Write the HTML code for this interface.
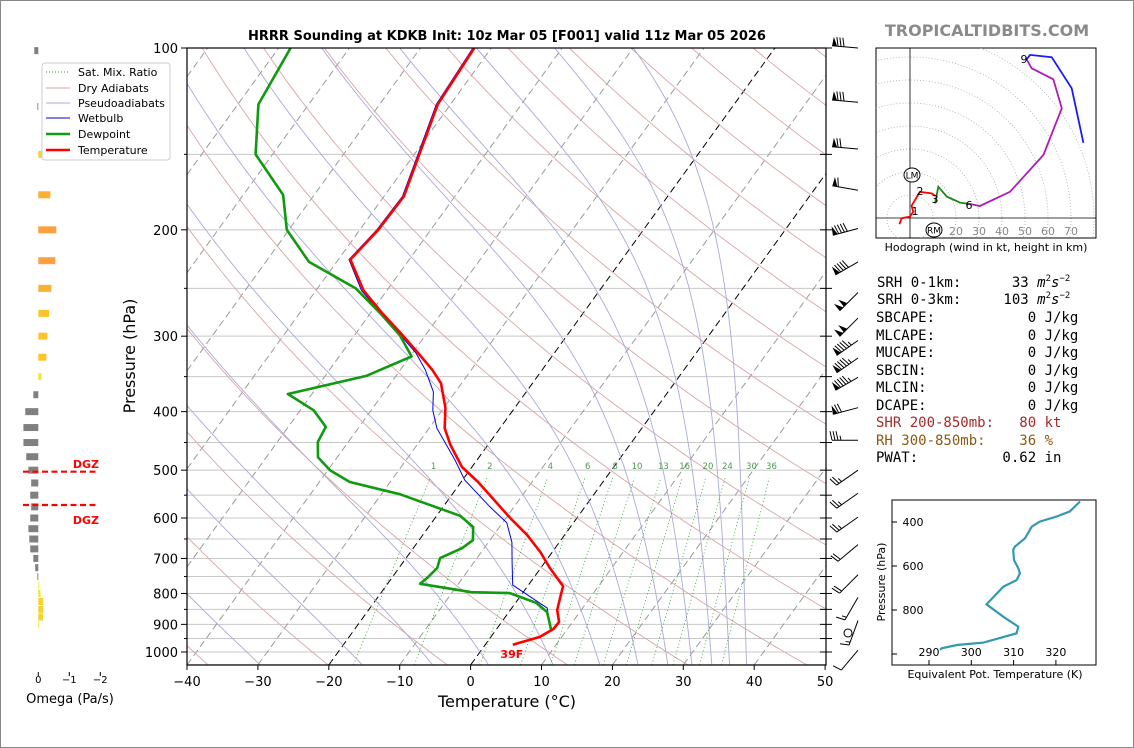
<!DOCTYPE html>
<html><head><meta charset="utf-8"><title>HRRR Sounding KDKB</title>
<style>
html,body{margin:0;padding:0;background:#fff;}
svg{display:block;font-family:"DejaVu Sans","Liberation Sans",sans-serif;}
.mono{font-family:"DejaVu Sans Mono","Liberation Mono",monospace;}
</style></head>
<body>
<svg id="chart" xmlns="http://www.w3.org/2000/svg" width="1134" height="748" viewBox="0 0 1134 748">
<rect x="0.5" y="0.5" width="1133" height="747" fill="#fff" stroke="#888"/>
<defs>
<clipPath id="mainClip"><rect x="187" y="48" width="639" height="617"/></clipPath>
<clipPath id="hodoClip"><rect x="876" y="48" width="220" height="190"/></clipPath>
</defs>
<g id="bg" clip-path="url(#mainClip)"></g>
<g id="profiles" clip-path="url(#mainClip)"></g>
<g id="axes"></g>
<g id="barbs"></g>
<g id="omega"></g>
<g id="hodo"></g>
<g id="thetae"></g>

<text x="507" y="40" text-anchor="middle" font-size="13" font-weight="bold">HRRR Sounding at KDKB Init: 10z Mar 05 [F001] valid 11z Mar 05 2026</text>
<text x="987" y="36" text-anchor="middle" font-size="16" font-weight="bold" fill="#8a8a8a">TROPICALTIDBITS.COM</text>
<text x="507" y="707" text-anchor="middle" font-size="16">Temperature (°C)</text>
<text x="135" y="356" text-anchor="middle" font-size="16" transform="rotate(-90 135 356)">Pressure (hPa)</text>

<g>
<rect x="42" y="63" width="128" height="97" rx="3" fill="#fff" stroke="#ccc"/>
<line x1="46" y1="72" x2="70" y2="72" stroke="#2a9d2a" stroke-dasharray="1,2"/>
<text x="78" y="76" font-size="11">Sat. Mix. Ratio</text>
<line x1="46" y1="88" x2="70" y2="88" stroke="#d9a5a5"/>
<text x="78" y="92" font-size="11">Dry Adiabats</text>
<line x1="46" y1="103" x2="70" y2="103" stroke="#a9a9d9"/>
<text x="78" y="107" font-size="11">Pseudoadiabats</text>
<line x1="46" y1="118" x2="70" y2="118" stroke="#0000cc"/>
<text x="78" y="122" font-size="11">Wetbulb</text>
<line x1="46" y1="134" x2="70" y2="134" stroke="#109a10" stroke-width="2.5"/>
<text x="78" y="138" font-size="11">Dewpoint</text>
<line x1="46" y1="150" x2="70" y2="150" stroke="#f00" stroke-width="2.5"/>
<text x="78" y="154" font-size="11">Temperature</text>
</g>

<g class="mono" font-size="14">
<text x="877" y="287" xml:space="preserve">SRH 0-1km:      33 <tspan font-style="italic">m</tspan><tspan font-size="9" dy="-6">2</tspan><tspan font-style="italic" dy="6">s</tspan><tspan font-size="9" dy="-6">−2</tspan></text>
<text x="877" y="304" xml:space="preserve">SRH 0-3km:     103 <tspan font-style="italic">m</tspan><tspan font-size="9" dy="-6">2</tspan><tspan font-style="italic" dy="6">s</tspan><tspan font-size="9" dy="-6">−2</tspan></text>
<text x="876" y="322" xml:space="preserve">SBCAPE:           0 J/kg</text>
<text x="876" y="340" xml:space="preserve">MLCAPE:           0 J/kg</text>
<text x="876" y="357" xml:space="preserve">MUCAPE:           0 J/kg</text>
<text x="876" y="375" xml:space="preserve">SBCIN:            0 J/kg</text>
<text x="876" y="392" xml:space="preserve">MLCIN:            0 J/kg</text>
<text x="876" y="410" xml:space="preserve">DCAPE:            0 J/kg</text>
<text x="876" y="427" fill="#a52a2a" xml:space="preserve">SHR 200-850mb:   80 kt</text>
<text x="876" y="445" fill="#8b5a12" xml:space="preserve">RH 300-850mb:    36 %</text>
<text x="876" y="462" xml:space="preserve">PWAT:          0.62 in</text>
</g>
</svg>

<script>
// ---------- Data ----------
const tempPres = [973,944,916,892,852,805,778,726,683,640,600,523,494,454,426,394,359,341,320,299,275,252,224,200,176,124,100];
const tempVals = [3.9,6.9,8.0,8.1,6.6,5.6,5.0,1.3,-1.7,-5.3,-9.4,-17.6,-21.4,-25.3,-27.8,-29.8,-32.9,-35.5,-39.2,-43.2,-48.3,-53.3,-58.3,-57.4,-57.2,-61.8,-62.4];
const dewPres = [925,859,829,799,796,771,754,726,699,673,653,621,595,548,523,500,476,449,424,398,374,349,324,299,274,250,226,200,175,150,124,100];
const dewVals = [8.0,5.4,2.9,-1.8,-7.3,-15.4,-15.0,-14.6,-15.2,-13.1,-12.4,-13.7,-16.7,-27.4,-35.7,-39.7,-42.7,-44.3,-44.7,-48.1,-53.4,-44.2,-39.8,-43.6,-48.8,-54.6,-63.9,-70.3,-74.4,-82.4,-87.1,-88.3];
const wbPres = [921,846,775,711,658,611,575,519,481,426,398,371,341,320,299,275,252,224,200,176,124,100];
const wbVals = [7.8,5.0,-2.2,-4.6,-6.7,-9.4,-13.4,-19.7,-23.1,-28.9,-31.3,-33.1,-36.5,-39.5,-43.5,-48.5,-53.6,-58.5,-57.6,-57.4,-62.0,-62.6];
const mixRatios = [1,2,4,6,8,10,13,16,20,24,30,36];
const dryThetas = [182.8,199.5,216.1,232.8,249.5,266.1,282.8,299.5,316.1,332.8,349.5,366.1,382.8,399.5,416.1,432.8,449.5,466.1,482.8,499.5,516.1,532.8,549.5,566.1,582.8];
const moistStarts = [-29.7,-15.3,-5.4,2.5,11.6,18.2,23.6,27.8,31.2,34.0,36.5,38.9];
const isotherms = [-120,-110,-100,-90,-80,-70,-60,-50,-40,-30,-10,10,20,30,40,50];
const tempTicks = [-40,-30,-20,-10,0,10,20,30,40,50];
const presTicks = [100,200,300,400,500,600,700,800,900,1000];
const gridPres = [100,150,200,250,300,350,400,450,500,550,600,650,700,750,800,850,900,950,1000,1050];

const barbPres = [100,123,147,172,199,226,254,280,305,326,351,394,446,500,546,598,664,745,812,887,930,993];
const barbDir  = [275,275,275,280,255,240,225,225,235,235,240,255,270,235,235,235,230,225,210,200,0,220];
const barbSpd  = [80,80,70,60,90,90,100,100,95,95,95,70,35,25,25,25,20,20,15,15,0,10];

const omegaPres = [101,125,150,175,200,225,250,275,300,325,350,375,400,425,450,475,500,525,550,575,600,625,650,675,700,725,750,775,800,825,850,875,900];
const omegaVals = [0.13,0.03,-0.16,-0.39,-0.58,-0.55,-0.42,-0.35,-0.29,-0.26,-0.10,0.16,0.42,0.48,0.48,0.39,0.32,0.23,0.26,0.23,0.26,0.32,0.29,0.26,0.16,0.10,0.03,-0.03,-0.07,-0.16,-0.16,-0.15,-0.03];

const hodoRedU = [-4.6,-3.6,0,1.4,0.7,4.3,9.4,10.9];
const hodoRedV = [-2.7,-0.1,0.6,2.7,5.3,11.4,10.7,9.6];
const hodoGreenU = [10.9,12.3,16,21.7,26.1];
const hodoGreenV = [6.4,13.6,9.3,6.7,6.1];
const hodoMagU = [26.1,30.4,43.5,58,66,62.3,52.9,50.7];
const hodoMagV = [6.1,5.2,11.4,27.4,47.7,60.3,65.1,69];
const hodoBlueU = [50.7,52.2,61.6,70.3,75.4];
const hodoBlueV = [69,70.9,69.9,56.4,32.7];
const hodoRings = [10,20,30,40,50,60,70,80];
const hodoLabels = [20,30,40,50,60,70];

const thetaPres = [307,352,375,398,421,474,512,527,573,610,633,664,694,774,831,876,906,921,948,959,974,981];
const thetaVals = [325.7,323.3,320.2,316.2,314.3,312.7,310.3,309.9,310.1,311.1,311.5,310.7,307.6,303.6,307.6,311.1,310.7,308.0,302.9,296.6,293.0,292.6];
const thetaXTicks = [290,300,310,320];
const thetaYTicks = [400,600,800,1000];

// ---------- Scales ----------
const NS = 'http://www.w3.org/2000/svg';
function yP(p){ return 48 + Math.log10(p/100)*604; }
function xT(T,p){ return 187 + (T+40)*7.09 + (665 - yP(p))*0.723; }
function mk(tag, attrs, parent){ const e=document.createElementNS(NS,tag); for(const k in attrs) e.setAttribute(k,attrs[k]); parent.appendChild(e); return e; }
function pathFrom(ps, ts){ return ps.map((p,i)=>(i?'L':'M')+xT(ts[i],p).toFixed(1)+','+yP(p).toFixed(1)).join(''); }

const bg=document.getElementById('bg');
gridPres.forEach(p=>{ const l=mk('line',{x1:187,x2:826,y1:yP(p),y2:yP(p),stroke:'#c8c8c8','stroke-width':1},bg);
   });
isotherms.forEach(T=>{ const l=mk('line',{x1:xT(T,1050),y1:yP(1050),x2:xT(T,80),y2:yP(80),stroke:'#9a9a9a','stroke-width':1,'stroke-dasharray':'7,4'},bg);
   });
[0,-20].forEach(T=>{ const l=mk('line',{x1:xT(T,1050),y1:yP(1050),x2:xT(T,80),y2:yP(80),stroke:'#000','stroke-width':1,'stroke-dasharray':'7,4'},bg);
   });
const presSteps=[]; for(let p=1050;p>=95;p-=5) presSteps.push(p);
dryThetas.forEach(th=>{ const d=presSteps.map((p,i)=>(i?'L':'M')+xT(th*Math.pow(p/1000,0.2857)-273.15,p).toFixed(1)+','+yP(p).toFixed(1)).join('');
 const l=mk('path',{d:d,fill:'none',stroke:'#d9a5a5','stroke-width':0.9},bg);
   });
function es(T){ return 6.112*Math.exp(17.67*T/(T+243.5)); }
moistStarts.forEach(T0=>{ let T=T0+273.15, p=1050, d='M'+xT(T0,p).toFixed(1)+','+yP(p).toFixed(1);
 while(p>95){ const Tc=T-273.15; const rs=0.622*es(Tc)/(p-es(Tc)); const Rd=287,Lv=2.5e6,cp=1004;
  const dTdp=(1/p)*(Rd*T+Lv*rs)/(cp+Lv*Lv*rs*0.622/(Rd*T*T)); T-=dTdp*2; p-=2; d+='L'+xT(T-273.15,p).toFixed(1)+','+yP(p).toFixed(1); }
 const l=mk('path',{d:d,fill:'none',stroke:'#a9a9d9','stroke-width':0.9},bg);
   });
function tdFromW(w,p){ const e=w*p/(622+w); const g=Math.log(e/6.112); return 243.5*g/(17.67-g); }
mixRatios.forEach(w=>{ const l=mk('line',{x1:xT(tdFromW(w,1050),1050),y1:yP(1050),x2:xT(tdFromW(w,515),515),y2:yP(515),stroke:'#2a9d2a','stroke-width':0.8,'stroke-dasharray':'1,2.5'},bg);
  
 const t=mk('text',{x:xT(tdFromW(w,500),500),y:469,'font-size':8.5,fill:'#4a9a4a','text-anchor':'middle'},bg); t.textContent=w;
   });

const prof=document.getElementById('profiles');
let pl;
pl=mk('path',{d:pathFrom(wbPres,wbVals),fill:'none',stroke:'#0000ee','stroke-width':1},prof);
 
pl=mk('path',{d:pathFrom(dewPres,dewVals),fill:'none',stroke:'#109a10','stroke-width':2.6,'stroke-linejoin':'round'},prof);
 
pl=mk('path',{d:pathFrom(tempPres,tempVals),fill:'none',stroke:'#ff0000','stroke-width':2.6,'stroke-linejoin':'round'},prof);
 
const sfc=mk('text',{x:xT(tempVals[0],tempPres[0])-1,y:yP(tempPres[0])+13,'font-size':11,'font-weight':'bold',fill:'#f00','text-anchor':'middle'},prof);
sfc.textContent=Math.round(tempVals[0]*9/5+32)+'F';
 

const ax=document.getElementById('axes');
let fr=mk('rect',{x:187,y:48,width:639,height:617,fill:'none',stroke:'#000','stroke-width':1.2},ax);
 
tempTicks.forEach(T=>{ const x=187+(T+40)*7.09;
 const tk=mk('line',{x1:x,x2:x,y1:665,y2:670,stroke:'#000'},ax);  
 const t=mk('text',{x:x,y:686,'font-size':13,'text-anchor':'middle'},ax); t.textContent=(T<0?'−':'')+Math.abs(T);
   });
gridPres.filter(p=>p<=1000).forEach(p=>{ const y=yP(p); const major=presTicks.includes(p);
 const tk=mk('line',{x1:major?181:184,x2:187,y1:y,y2:y,stroke:'#000'},ax);  
 const tk2=mk('line',{x1:820,x2:832,y1:y,y2:y,stroke:'#000'},ax);  
 if(major){ const t=mk('text',{x:178,y:y+5,'font-size':13,'text-anchor':'end'},ax); t.textContent=p;
    } });

const bgb=document.getElementById('barbs');
barbPres.forEach((p,i)=>{ const sx=858, sy=yP(p), spd=barbSpd[i], dir=barbDir[i]*Math.PI/180;
 if(spd<3){ const c=mk('circle',{cx:sx-10,cy:sy,r:4,fill:'none',stroke:'#000'},bgb);   return; }
 const ux=Math.sin(dir), uy=-Math.cos(dir), L=26, px=-uy, py=ux;
 const tx=sx+ux*L, ty=sy+uy*L;
 const g=mk('g',{},bgb);  
 mk('line',{x1:sx,y1:sy,x2:tx,y2:ty,stroke:'#000','stroke-width':1},g);
 let s=Math.round(spd/5)*5, pos=0;
 while(s>=50){ const ax1=tx-ux*pos, ay1=ty-uy*pos, ax2=tx-ux*(pos+5), ay2=ty-uy*(pos+5);
  mk('polygon',{points:`${ax1},${ay1} ${ax2},${ay2} ${ax1+px*9-ux*1},${ay1+py*9-uy*1}`,fill:'#000'},g); pos+=6; s-=50; }
 while(s>=10){ const bx=tx-ux*pos, by=ty-uy*pos; mk('line',{x1:bx,y1:by,x2:bx+px*9+ux*2,y2:by+py*9+uy*2,stroke:'#000'},g); pos+=3; s-=10; }
 if(s>=5){ if(pos===0) pos=3; const bx=tx-ux*pos, by=ty-uy*pos; mk('line',{x1:bx,y1:by,x2:bx+px*4.5+ux*1,y2:by+py*4.5+uy*1,stroke:'#000'},g); }
});

const om=document.getElementById('omega');
function xO(v){ return 38.3 - v*31; }
omegaPres.forEach((p,i)=>{ const v=omegaVals[i], x0=xO(0), x1=xO(v); let col='#808080';
 if(v<0){ const m=-v; col = m>0.5?'#fca040':(m>0.38?'#fbb030':(m>0.2?'#fbc42a':(m>0.12?'#f7d22a':'#f5e620'))); }
 const r=mk('rect',{x:Math.min(x0,x1),y:yP(p)-3.5,width:Math.max(Math.abs(x1-x0),0.8),height:7,fill:col},om);
   });
[[471.7,464],[505,520]].forEach(([y,ty])=>{ const l=mk('line',{x1:23,x2:99,y1:y,y2:y,stroke:'#f00','stroke-width':2.2,'stroke-dasharray':'6,3.5'},om);
  
 const t=mk('text',{x:99,y:ty+4,'font-size':11,'font-weight':'bold',fill:'#f00','text-anchor':'end'},om); t.textContent='DGZ';
   });
[0,-1,-2].forEach(v=>{ const x=xO(v); mk('line',{x1:x,x2:x,y1:672,y2:676,stroke:'#000'},om);
 const t=mk('text',{x:x,y:683,'font-size':10,'text-anchor':'middle'},om); t.textContent=v===0?'0':'−'+Math.abs(v);
   });
let ot=mk('text',{x:70,y:703,'font-size':13,'text-anchor':'middle'},om); ot.textContent='Omega (Pa/s)';
 

const hd=document.getElementById('hodo');
const OX=910, OY=218, K=2.3;
function hx(u){ return OX+u*K; } function hy(v){ return OY-v*K; }
mk('rect',{x:876,y:48,width:220,height:190,fill:'#fff',stroke:'#000'},hd);
const hg=mk('g',{'clip-path':'url(#hodoClip)'},hd);
hodoRings.forEach(r=>{ const c=mk('circle',{cx:OX,cy:OY,r:r*K,fill:'none',stroke:'#aaa','stroke-width':0.8,'stroke-dasharray':'1,2'},hg);
   });
mk('line',{x1:OX,x2:OX,y1:48,y2:238,stroke:'#000','stroke-width':0.8},hg);
mk('line',{x1:876,x2:1096,y1:OY,y2:OY,stroke:'#000','stroke-width':0.8},hg);
hodoLabels.forEach(k=>{ const t=mk('text',{x:hx(k),y:235,'font-size':11,fill:'#888','text-anchor':'middle'},hd); t.textContent=k;
   });
[[hodoRedU,hodoRedV,'#f00','hodograph-0-3km'],[hodoGreenU,hodoGreenV,'#1a8a1a','hodograph-3-6km'],[hodoMagU,hodoMagV,'#b01ab8','hodograph-6-9km'],[hodoBlueU,hodoBlueV,'#1a1aff','hodograph-9-12km']].forEach(([U,V,c,n])=>{
 const d=U.map((u,i)=>(i?'L':'M')+hx(u).toFixed(1)+','+hy(V[i]).toFixed(1)).join('');
 const l=mk('path',{d:d,fill:'none',stroke:c,'stroke-width':1.8},hg);   });
[['1',915,215],['2',920,195],['3',935,203],['6',969,209],['9',1024,63]].forEach(([s,x,y])=>{ const t=mk('text',{x:x,y:y,'font-size':11,'text-anchor':'middle'},hd); t.textContent=s;
   });
[['LM',912,175],['RM',934,230]].forEach(([s,x,y])=>{ mk('ellipse',{cx:x,cy:y,rx:8,ry:7,fill:'#fff',stroke:'#000'},hd);
 const t=mk('text',{x:x,y:y+3.5,'font-size':9,'text-anchor':'middle'},hd); t.textContent=s;
   });
let hc=mk('text',{x:986,y:251,'font-size':11,'text-anchor':'middle'},hd); hc.textContent='Hodograph (wind in kt, height in km)';
 

const te=document.getElementById('thetae');
function tx_(t){ return 929+(t-290)*4.23; } function ty_(p){ return 522+(p-400)*0.22; }
mk('rect',{x:892,y:500,width:204,height:165,fill:'#fff',stroke:'#000'},te);
thetaXTicks.forEach(t=>{ const x=tx_(t); mk('line',{x1:x,x2:x,y1:665,y2:660,stroke:'#000'},te);
 const s=mk('text',{x:x,y:656,'font-size':11,'text-anchor':'middle'},te); s.textContent=t;
   });
thetaYTicks.forEach(p=>{ const y=ty_(p); mk('line',{x1:892,x2:897,y1:y,y2:y,stroke:'#000'},te);
 if(p<1000){ const s=mk('text',{x:913,y:y+4,'font-size':11,'text-anchor':'middle'},te); s.textContent=p;
   } });
let tl=mk('path',{d:thetaPres.map((p,i)=>(i?'L':'M')+tx_(thetaVals[i]).toFixed(1)+','+ty_(p).toFixed(1)).join(''),fill:'none',stroke:'#3399b0','stroke-width':2.2},te);
 
let tt=mk('text',{x:995,y:678,'font-size':11,'text-anchor':'middle'},te); tt.textContent='Equivalent Pot. Temperature (K)';
 
let ty2=mk('text',{x:885,y:582,'font-size':11,'text-anchor':'middle',transform:'rotate(-90 885 582)'},te); ty2.textContent='Pressure (hPa)';
 
</script>
</body></html>
